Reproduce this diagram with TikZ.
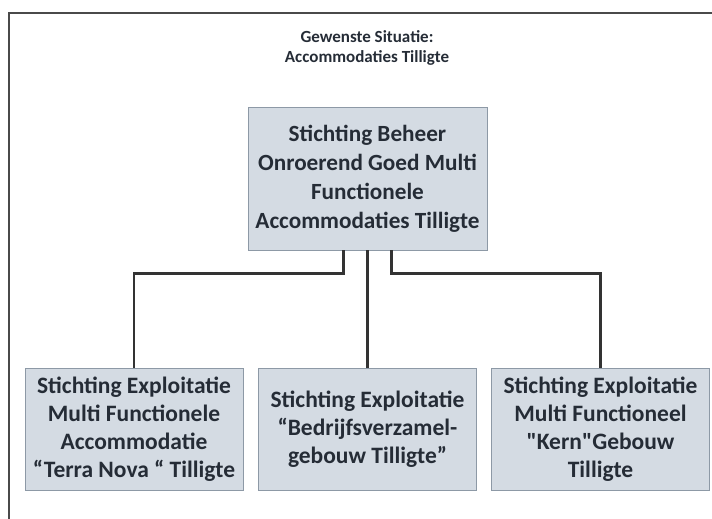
\documentclass[tikz,border=0pt]{standalone}
\usepackage{fontspec}
\setmainfont{Carlito}[Ligatures=TeXOff]
\usepackage{tikz}
\usetikzlibrary{calc}
\definecolor{boxfill}{HTML}{D4DBE3}
\definecolor{boxline}{HTML}{8D99A6}
\definecolor{inktext}{HTML}{252C36}
\definecolor{frameline}{HTML}{4A4A4A}
\tikzset{
    orgbox/.style={draw=boxline, line width=0.8pt, fill=boxfill, align=center,
        text=inktext, font=\bfseries, inner sep=0pt},
    topbox/.style={orgbox, minimum width=239pt, minimum height=143pt,
        font=\bfseries\fontsize{23.2}{29}\selectfont},
    lowbox/.style={orgbox, minimum width=218pt, minimum height=122pt,
        font=\bfseries\fontsize{23.5}{28}\selectfont},
    link/.style={draw=black!80, line width=2.3pt}
}
\begin{document}
\begin{tikzpicture}[x=1pt, y=-1pt]
            \useasboundingbox (0,0) rectangle (712,519);
            \draw[frameline, line width=1.8pt] (9,519) -- (9,13) -- (712,13);
            \node[align=center, text=inktext, font=\bfseries\fontsize{17}{20}\selectfont] (title) at (367,48)
                {Gewenste Situatie:\\Accommodaties Tilligte};

            \node[topbox] (beheer) at (367.5,178.5)
                {Stichting Beheer\\Onroerend Goed Multi\\Functionele\\Accommodaties Tilligte};

            \node[lowbox] (terranova) at (134,429)
                {Stichting Exploitatie\\Multi Functionele\\Accommodatie\\“Terra Nova “ Tilligte};
            \node[lowbox] (bedrijf) at (367.5,429)
                {Stichting Exploitatie\\“Bedrijfsverzamel-\\gebouw Tilligte”};
            \node[lowbox] (kern) at (600.5,429)
                {Stichting Exploitatie\\Multi Functioneel\\"Kern"Gebouw\\Tilligte};

            \draw[link] ($(beheer.south)+(-24,0)$) -- ++(0,23) -| (terranova.north);
            \draw[link] (beheer.south) -- (bedrijf.north);
            \draw[link] ($(beheer.south)+(24,0)$) -- ++(0,23) -| (kern.north);
\end{tikzpicture}
\end{document}
